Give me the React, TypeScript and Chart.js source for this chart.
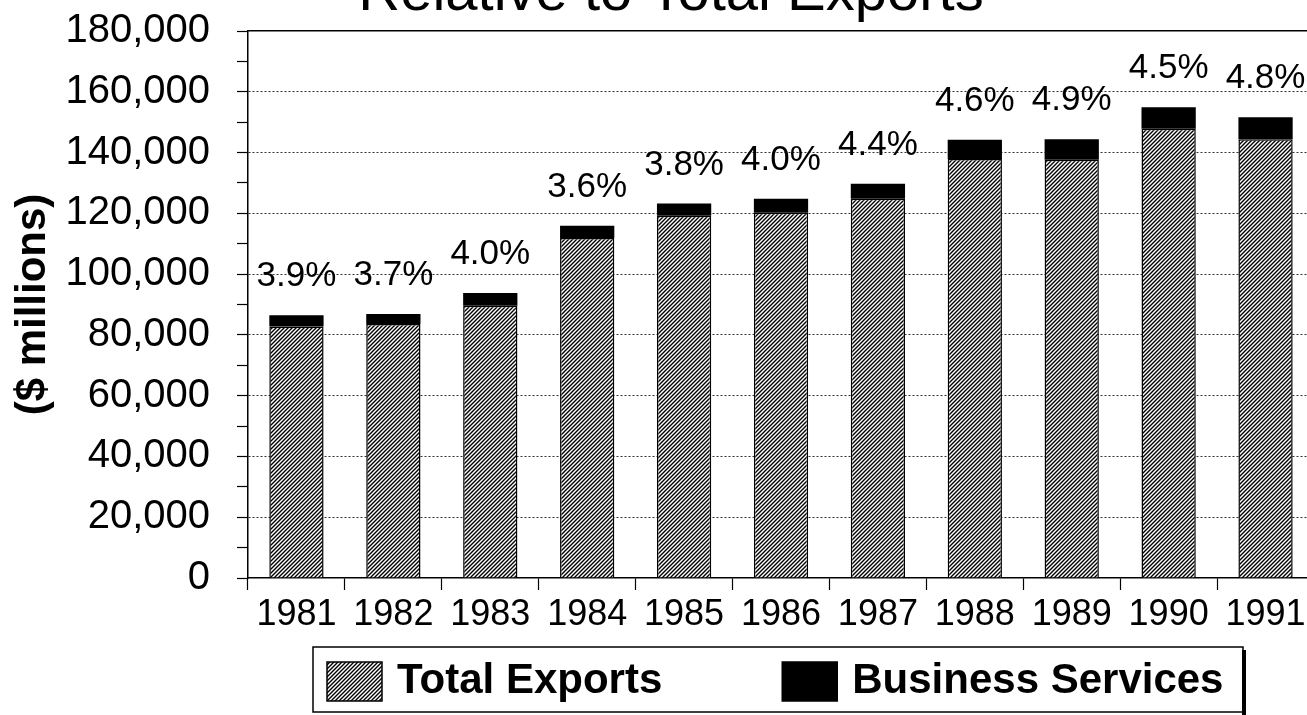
import React, { useEffect, useRef } from 'react';
import { Chart, registerables } from 'chart.js';

Chart.register(...registerables);

const years = ['1981', '1982', '1983', '1984', '1985', '1986', '1987', '1988', '1989', '1990', '1991'];
const totalExports = [82800, 83600, 89600, 111900, 119200, 120200, 124800, 137900, 137600, 147800, 144400];
const businessServices = [3700, 3300, 4200, 4000, 4000, 4600, 4900, 6300, 6800, 7100, 7200];
const shareLabels = ['3.9%', '3.7%', '4.0%', '3.6%', '3.8%', '4.0%', '4.4%', '4.6%', '4.9%', '4.5%', '4.8%'];
const seriesNames = ['Total Exports', 'Business Services'];
const yMin = 0;
const yMax = 180000;
const yMinorStep = 10000;
const yMajorStep = 20000;
const chartTitle = 'Relative to Total Exports';
const yAxisTitle = '($ millions)';

const FONT = '"Liberation Sans", Arial, Helvetica, sans-serif';

function makeHatch(): CanvasPattern | string {
  const c = document.createElement('canvas');
  c.width = 4;
  c.height = 4;
  const g = c.getContext('2d');
  if (!g) return '#888';
  g.fillStyle = '#fff';
  g.fillRect(0, 0, 4, 4);
  g.strokeStyle = '#000';
  g.lineWidth = 1.4;
  g.beginPath();
  g.moveTo(-1, 5);
  g.lineTo(5, -1);
  g.moveTo(-1, 1);
  g.lineTo(1, -1);
  g.moveTo(3, 5);
  g.lineTo(5, 3);
  g.stroke();
  return g.createPattern(c, 'repeat') || '#888';
}

const shareLabelPlugin = {
  id: 'shareLabels',
  afterDatasetsDraw(chart: any) {
    const meta = chart.getDatasetMeta(1);
    const ctx = chart.ctx;
    ctx.save();
    ctx.font = `35px ${FONT}`;
    ctx.fillStyle = '#000';
    ctx.textAlign = 'center';
    ctx.textBaseline = 'alphabetic';
    meta.data.forEach((el: any, i: number) => {
      ctx.fillText(shareLabels[i], el.x, el.y - 29);
    });
    ctx.restore();
  },
};

const titlePlugin = {
  id: 'cutTitle',
  afterDraw(chart: any) {
    const ctx = chart.ctx;
    ctx.save();
    ctx.font = `58px ${FONT}`;
    ctx.fillStyle = '#000';
    ctx.textAlign = 'center';
    ctx.textBaseline = 'alphabetic';
    ctx.fillText(chartTitle, 671, 10);
    ctx.restore();
  },
};

const boxLegendPlugin = {
  id: 'boxLegend',
  afterDraw(chart: any) {
    const ctx = chart.ctx;
    const area = chart.chartArea;
    const left = area.left + 65;
    const top = 647;
    const bottom = 712;
    const right = 1243;
    ctx.save();
    ctx.strokeStyle = '#000';
    ctx.lineWidth = 1.5;
    ctx.strokeRect(left, top, right - left, bottom - top);
    ctx.lineWidth = 4;
    ctx.beginPath();
    ctx.moveTo(right + 1, top + 3);
    ctx.lineTo(right + 1, bottom + 3);
    ctx.stroke();
    ctx.font = `bold 42px ${FONT}`;
    ctx.textAlign = 'left';
    ctx.textBaseline = 'alphabetic';
    let x = left + 14;
    chart.data.datasets.forEach((ds: any) => {
      ctx.fillStyle = ds.backgroundColor;
      ctx.fillRect(x, 662, 55, 39);
      ctx.lineWidth = 1.5;
      ctx.strokeStyle = '#000';
      ctx.strokeRect(x, 662, 55, 39);
      ctx.fillStyle = '#000';
      const tx = x + 70;
      ctx.fillText(ds.label, tx, 693);
      x = tx + ctx.measureText(ds.label).width + 120;
    });
    ctx.restore();
  },
};

export default function App() {
  const ref = useRef<HTMLCanvasElement | null>(null);

  useEffect(() => {
    if (!ref.current) return;
    const hatch = makeHatch();
    const chart = new Chart(ref.current, {
      type: 'bar',
      data: {
        labels: years,
        datasets: [
          {
            label: seriesNames[0],
            data: totalExports,
            backgroundColor: hatch as any,
            borderColor: '#000',
            borderWidth: 1.5,
            stack: 's',
          },
          {
            label: seriesNames[1],
            data: businessServices,
            backgroundColor: '#000',
            borderWidth: 0,
            stack: 's',
          },
        ],
      },
      options: {
        responsive: false,
        animation: false,
        devicePixelRatio: 1,
        layout: { padding: { top: 31, bottom: 77, left: 0, right: 0 } },
        datasets: { bar: { barPercentage: 0.56, categoryPercentage: 1 } },
        plugins: {
          legend: { display: false },
          title: { display: false },
          tooltip: { enabled: false },
        },
        scales: {
          x: {
            stacked: true,
            afterFit: (s: any) => {
              s.height = 60;
            },
            grid: { offset: true, drawOnChartArea: false, drawTicks: true, tickLength: 12, tickColor: '#000', color: '#000', tickWidth: 1.2 },
            border: { display: true, color: '#000', width: 1.5 },
            ticks: { color: '#000', font: { family: FONT, size: 36 }, padding: 3, maxRotation: 0, autoSkip: false },
          },
          x2: {
            type: 'category',
            position: 'top',
            labels: years,
            afterFit: (s: any) => {
              s.height = 0;
            },
            grid: { display: false, drawTicks: false },
            ticks: { display: false },
            border: { display: true, color: '#000', width: 1.5 },
          },
          y: {
            stacked: true,
            min: yMin,
            max: yMax,
            afterFit: (s: any) => {
              s.width = 248;
              s.paddingTop = 0;
              s.paddingBottom = 0;
            },
            ticks: {
              stepSize: yMinorStep,
              autoSkip: false,
              color: '#000',
              font: { family: FONT, size: 40 },
              padding: 27,
              callback: (v: any) => (Number(v) % yMajorStep === 0 ? Number(v).toLocaleString('en-US') : ''),
            },
            grid: {
              color: (c: any) =>
                c.tick && c.tick.value % yMajorStep === 0 && c.tick.value !== yMin && c.tick.value !== yMax
                  ? '#333'
                  : 'rgba(0,0,0,0)',
              tickColor: '#000',
              tickLength: 11,
              lineWidth: 1,
              tickWidth: 1.2,
            },
            border: { display: true, color: '#000', width: 1.5, dash: [2, 2] },
            title: {
              display: true,
              text: yAxisTitle,
              color: '#000',
              font: { family: FONT, size: 42, weight: 'bold' },
              padding: { top: 8, bottom: 0 },
            },
          },
        },
      },
      plugins: [shareLabelPlugin, titlePlugin, boxLegendPlugin],
    } as any);
    return () => chart.destroy();
  }, []);

  return (
    <div style={{ position: 'fixed', left: 0, top: 0, width: 1307, height: 715, overflow: 'hidden', background: '#fff' }}>
      <canvas ref={ref} width={1314} height={715} style={{ display: 'block' }} />
    </div>
  );
}
